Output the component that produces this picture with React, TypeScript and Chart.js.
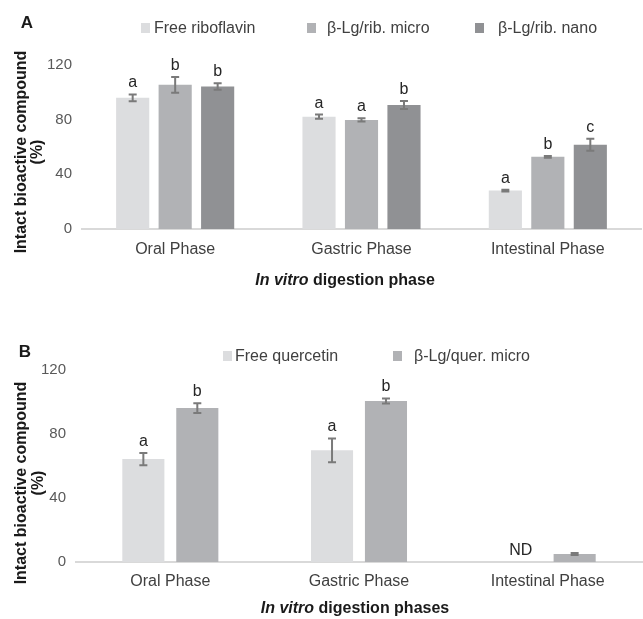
import React, { useEffect, useRef } from "react";
import { Chart, registerables } from "chart.js";
Chart.register(...registerables);

// ---- data ----
const phases = ["Oral Phase", "Gastric Phase", "Intestinal Phase"];
const yTicks = [0, 40, 80, 120];

// Panel A: riboflavin
const ribFree = [96, 82.2, 28.1];
const ribFreeErr = [2.5, 1.5, 0.7];
const ribFreeLetters = ["a", "a", "a"];
const ribMicro = [105.5, 79.8, 52.8];
const ribMicroErr = [5.8, 1.2, 0.6];
const ribMicroLetters = ["b", "a", "b"];
const ribNano = [104.2, 90.7, 61.6];
const ribNanoErr = [2.4, 2.9, 4.4];
const ribNanoLetters = ["b", "b", "c"];

// Panel B: quercetin
const querFree = [64.3, 69.8, 0];
const querFreeErr = [3.8, 7.4, 0];
const querFreeLetters = ["a", "a", "ND"];
const querMicro = [96.2, 100.6, 5];
const querMicroErr = [3, 1.6, 0.6];
const querMicroLetters = ["b", "b", ""];

const FONT = "'Liberation Sans', Arial, Helvetica, sans-serif";
const C_FREE = "#dcdddf";
const C_MICRO = "#b1b2b5";
const C_NANO = "#909194";

type PanelOpts = {
  panel: string;
  panelPos: [number, number];
  legend: { markerX: number; textX: number }[];
  legendY: number;
  yTitleX: [number, number];
  yTitleY: number;
  catOffset: number;
  xTitleOffset: number;
  xTitleX: number;
  xTitleTail: string;
};

const overlay = {
  id: "overlay",
  afterDatasetsDraw(chart: any, _args: any, o: PanelOpts) {
    const ctx = chart.ctx as CanvasRenderingContext2D;
    const xs = chart.scales.x;
    const ys = chart.scales.y;
    const area = chart.chartArea;
    ctx.save();
    // error bars and letters
    chart.data.datasets.forEach((ds: any, di: number) => {
      const meta = chart.getDatasetMeta(di);
      meta.data.forEach((el: any, i: number) => {
        const v = ds.data[i];
        const e = ds.errors[i];
        const top = ys.getPixelForValue(v + e);
        const bot = ys.getPixelForValue(Math.max(v - e, 0));
        if (e > 0) {
          ctx.strokeStyle = "#7a7a7a";
          ctx.lineWidth = 2;
          ctx.beginPath();
          ctx.moveTo(el.x, top);
          ctx.lineTo(el.x, bot);
          ctx.moveTo(el.x - 4, top);
          ctx.lineTo(el.x + 4, top);
          ctx.moveTo(el.x - 4, bot);
          ctx.lineTo(el.x + 4, bot);
          ctx.stroke();
        }
        const letter = ds.letters[i];
        if (letter) {
          ctx.fillStyle = "#262626";
          ctx.font = `16px ${FONT}`;
          ctx.textAlign = "center";
          ctx.textBaseline = "alphabetic";
          ctx.fillText(letter, el.x, top - 7);
        }
      });
    });
    // category labels
    ctx.fillStyle = "#404040";
    ctx.font = `16px ${FONT}`;
    ctx.textAlign = "center";
    ctx.textBaseline = "middle";
    chart.data.labels.forEach((lab: string, i: number) => {
      ctx.fillText(lab, xs.getPixelForValue(i), area.bottom + o.catOffset);
    });
    // x title (mixed italic)
    const p1 = "In vitro";
    const p2 = " " + o.xTitleTail;
    ctx.fillStyle = "#1a1a1a";
    ctx.font = `italic bold 16px ${FONT}`;
    const w1 = ctx.measureText(p1).width;
    ctx.font = `bold 16px ${FONT}`;
    const w2 = ctx.measureText(p2).width;
    const start = o.xTitleX - (w1 + w2) / 2;
    const ty = area.bottom + o.xTitleOffset;
    ctx.textAlign = "left";
    ctx.font = `italic bold 16px ${FONT}`;
    ctx.fillText(p1, start, ty);
    ctx.font = `bold 16px ${FONT}`;
    ctx.fillText(p2, start + w1, ty);
    // y title
    ctx.save();
    ctx.textAlign = "center";
    ctx.textBaseline = "middle";
    ctx.font = `bold 16px ${FONT}`;
    ctx.translate(o.yTitleX[0], o.yTitleY);
    ctx.rotate(-Math.PI / 2);
    ctx.fillText("Intact bioactive compound", 0, 0);
    ctx.restore();
    ctx.save();
    ctx.textAlign = "center";
    ctx.textBaseline = "middle";
    ctx.font = `bold 16px ${FONT}`;
    ctx.translate(o.yTitleX[1], o.yTitleY);
    ctx.rotate(-Math.PI / 2);
    ctx.fillText("(%)", 0, 0);
    ctx.restore();
    // panel letter
    ctx.fillStyle = "#1a1a1a";
    ctx.font = `bold 17px ${FONT}`;
    ctx.textAlign = "center";
    ctx.textBaseline = "middle";
    ctx.fillText(o.panel, o.panelPos[0], o.panelPos[1]);
    // legend
    chart.data.datasets.forEach((ds: any, di: number) => {
      const l = o.legend[di];
      ctx.fillStyle = ds.backgroundColor;
      ctx.fillRect(l.markerX, o.legendY - 5, 9, 10);
      ctx.fillStyle = "#404040";
      ctx.font = `16px ${FONT}`;
      ctx.textAlign = "left";
      ctx.textBaseline = "middle";
      ctx.fillText(ds.label, l.textX, o.legendY + 1);
    });
    ctx.restore();
  },
};

function makeConfig(
  datasets: any[],
  padding: any,
  yWidth: number,
  catPct: number,
  o: PanelOpts
): any {
  return {
    type: "bar",
    data: { labels: phases, datasets },
    options: {
      animation: false,
      responsive: false,
      devicePixelRatio: 1,
      layout: { padding },
      plugins: {
        legend: { display: false },
        tooltip: { enabled: false },
        overlay: o,
      },
      datasets: { bar: { categoryPercentage: catPct, barPercentage: 0.78 } },
      scales: {
        x: {
          grid: { display: false, drawTicks: false },
          ticks: { display: false },
          border: { display: true, color: "#d9d9d9", width: 2 },
        },
        y: {
          min: yTicks[0],
          max: yTicks[yTicks.length - 1],
          afterBuildTicks: (s: any) => {
            s.ticks = yTicks.map((v) => ({ value: v }));
          },
          afterFit: (s: any) => {
            s.width = yWidth;
          },
          grid: { display: false, drawTicks: false },
          border: { display: false },
          ticks: {
            padding: 10,
            color: "#595959",
            font: { family: FONT, size: 15 },
          },
        },
      },
    },
    plugins: [overlay],
  };
}

export default function App() {
  const refA = useRef<HTMLCanvasElement>(null);
  const refB = useRef<HTMLCanvasElement>(null);

  useEffect(() => {
    const dsA = [
      { label: "Free riboflavin", data: ribFree, errors: ribFreeErr, letters: ribFreeLetters, backgroundColor: C_FREE },
      { label: "β-Lg/rib. micro", data: ribMicro, errors: ribMicroErr, letters: ribMicroLetters, backgroundColor: C_MICRO },
      { label: "β-Lg/rib. nano", data: ribNano, errors: ribNanoErr, letters: ribNanoLetters, backgroundColor: C_NANO },
    ];
    const dsB = [
      { label: "Free quercetin", data: querFree, errors: querFreeErr, letters: querFreeLetters, backgroundColor: C_FREE },
      { label: "β-Lg/quer. micro", data: querMicro, errors: querMicroErr, letters: querMicroLetters, backgroundColor: C_MICRO },
    ];
    const chartA = new Chart(
      refA.current!,
      makeConfig(dsA, { top: 65, bottom: 81, left: 0, right: 2 }, 82, 0.684, {
        panel: "A",
        panelPos: [27, 23],
        legend: [
          { markerX: 141, textX: 154 },
          { markerX: 307, textX: 327 },
          { markerX: 475, textX: 498 },
        ],
        legendY: 28,
        yTitleX: [22, 38],
        yTitleY: 152,
        catOffset: 21,
        xTitleOffset: 52,
        xTitleX: 345,
        xTitleTail: "digestion phase",
      })
    );
    const chartB = new Chart(
      refB.current!,
      makeConfig(dsB, { top: 60, bottom: 57, left: 0, right: 1 }, 76, 0.572, {
        panel: "B",
        panelPos: [25, 42],
        legend: [
          { markerX: 223, textX: 235 },
          { markerX: 393, textX: 414 },
        ],
        legendY: 46,
        yTitleX: [22, 39],
        yTitleY: 173,
        catOffset: 20,
        xTitleOffset: 47,
        xTitleX: 355,
        xTitleTail: "digestion phases",
      })
    );
    return () => {
      chartA.destroy();
      chartB.destroy();
    };
  }, []);

  return (
    <div style={{ position: "absolute", left: 0, top: 0, width: 643, height: 619, background: "#fff" }}>
      <canvas ref={refA} width={643} height={310} style={{ position: "absolute", left: 0, top: 0, display: "block" }} />
      <canvas ref={refB} width={643} height={309} style={{ position: "absolute", left: 0, top: 310, display: "block" }} />
    </div>
  );
}
